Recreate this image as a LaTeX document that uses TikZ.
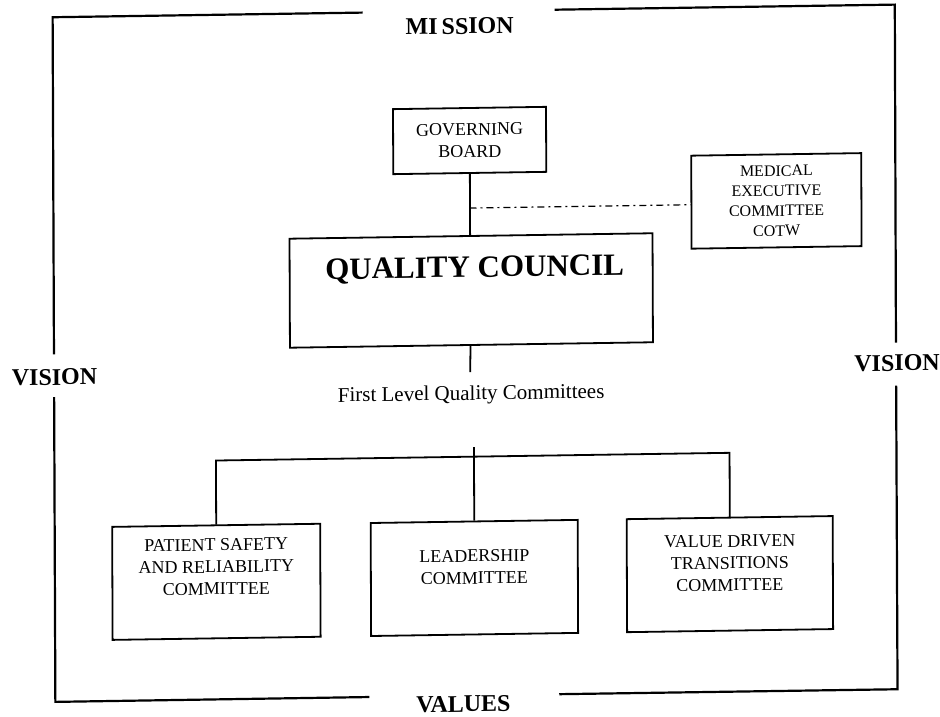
\documentclass[tikz,border=0pt]{standalone}
\usepackage{fontspec}
\setmainfont{Liberation Serif}
\usetikzlibrary{calc}
\begin{document}
\begin{tikzpicture}[x=1pt,y=-1pt,
  frameline/.style={line width=2.2pt, line cap=rect},
  box/.style={draw, line width=1.8pt, inner sep=0pt},
  link/.style={line width=1.8pt},
  dotlink/.style={line width=1.2pt, dash pattern=on 7pt off 4pt on 2pt off 4pt},
  sidelabel/.style={font=\fontsize{24}{28}\selectfont\bfseries, inner sep=0pt},
  boxtext/.style={font=\fontsize{18}{22}\selectfont, align=center, inner sep=0pt},
  smalltext/.style={font=\fontsize{16}{20}\selectfont, align=center, inner sep=0pt},
  titletext/.style={font=\fontsize{31}{36}\selectfont\bfseries, inner sep=0pt},
  captiontext/.style={font=\fontsize{21}{25}\selectfont, inner sep=0pt}
]
\useasboundingbox (0,0) rectangle (940,717);
\begin{scope}[shift={(470,358)}]
\begin{scope}[cm={1,0.015,-0.004,1,(0,0)}, transform shape]
\begin{scope}[shift={(-470,-358)}]

% outer frame corners
\coordinate (tl) at (54,11);
\coordinate (tr) at (896,11);
\coordinate (bl) at (54,695.5);
\coordinate (br) at (896,695.5);

% frame, broken where the four labels sit
\draw[frameline] (363,11) -- (tl) -- (54,347);
\draw[frameline] (54,392) -- (bl) -- (367,695.5);
\draw[frameline] (557,11) -- (tr) -- (896,348);
\draw[frameline] (896,393) -- (br) -- (559,695.5);

\node[sidelabel] (mission) at (461,26) {MI\hspace{4pt}SSION};
\node[sidelabel] (visionl) at (54.5,371) {VISION};
\node[sidelabel] (visionr) at (897,369.5) {VISION};
\node[sidelabel] (values)  at (462,704) {VALUES};

% boxes
\node[box, minimum width=153pt, minimum height=65pt] (gb) at (470.5,140.5) {};
\node[boxtext] (gbtext) at (gb.center) {GOVERNING\\BOARD};

\node[box, minimum width=170pt, minimum height=93pt] (mec) at (777,205.5) {};
\node[smalltext] (mectext) at (mec.center) {MEDICAL\\EXECUTIVE\\COMMITTEE\\COTW};

\node[box, minimum width=363pt, minimum height=109pt] (qc) at (471.5,290.5) {};
\node[titletext] (qctext) at (475,269.5) {QUALITY COUNCIL};

\node[captiontext] (first) at (471,395) {First Level Quality Committees};

\node[box, minimum width=208pt, minimum height=113pt] (psr) at (215.5,578) {};
\node[boxtext] (psrtext) at (215.5,563) {PATIENT SAFETY\\AND RELIABILITY\\COMMITTEE};

\node[box, minimum width=207pt, minimum height=113pt] (lead) at (473.5,578) {};
\node[boxtext] (leadtext) at (473.5,567) {LEADERSHIP\\COMMITTEE};

\node[box, minimum width=206pt, minimum height=113pt] (vdt) at (729,578) {};
\node[boxtext] (vdttext) at (729,567) {VALUE DRIVEN\\TRANSITIONS\\COMMITTEE};

% connectors
\coordinate (stem) at (470,372);
\coordinate (dd) at (470,208);
\coordinate (hub) at (473.5,447);

\draw[link] (gb.south) -- (gb.south |- qc.north);
\draw[link] (gb.south |- qc.south) -- (stem);
\draw[dotlink] (dd) -- (dd -| mec.west);
\draw[link] (hub) -- (lead.north);
\draw[link] (psr.north) -- ++(0,-64) -| (vdt.north);

\end{scope}
\end{scope}
\end{scope}
\end{tikzpicture}
\end{document}
